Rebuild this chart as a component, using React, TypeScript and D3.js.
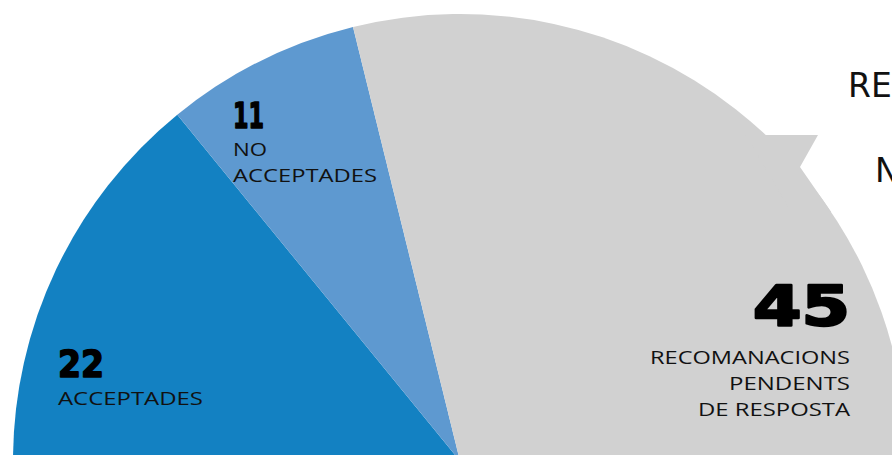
import React, { useEffect } from "react";
import * as d3 from "d3";

const categories = ["ACCEPTADES", "NO ACCEPTADES", "RECOMANACIONS PENDENTS DE RESPOSTA"];
const values = [22, 11, 45];
const labelLines = [["ACCEPTADES"], ["NO", "ACCEPTADES"], ["RECOMANACIONS", "PENDENTS", "DE RESPOSTA"]];
const colors = ["#1381C2", "#5E99D0", "#D1D1D1"];
const sideTexts = ["RECOMANACIONS", "NOMBRE"];

const W = 892;
const H = 455;
const cx = 460;
const cy = 461;
const R = 447;

const labelLayout = [
  { x: 58, numBase: 377, numSize: 37, numW: 46, stroke: 1.6, lineBase: [405], lineW: [145], anchor: "start" },
  { x: 233, numBase: 128, numSize: 36, numW: 31, stroke: 1.6, lineBase: [156, 182], lineW: [34, 144], anchor: "start" },
  { x: 850, numBase: 325, numSize: 55, numW: 97, stroke: 2.4, lineBase: [364, 390, 416], lineW: [200, 121, 152], anchor: "end" },
];

const FONT = "'Open Sans', 'DejaVu Sans', sans-serif";
const NUMFONT = "'DejaVu Sans', sans-serif";

export default function App() {
  useEffect(() => {
    document.body.style.margin = "0";
  }, []);

  const pie = d3
    .pie<number>()
    .sort(null)
    .startAngle(-Math.PI / 2)
    .endAngle(Math.PI / 2)
    .value((d) => d);
  const arcs = pie(values);
  const arcGen = d3.arc<d3.PieArcDatum<number>>().innerRadius(0).outerRadius(R);

  const ya = 135;
  const xa = cx + Math.sqrt(R * R - (cy - ya) * (cy - ya));
  const yb = 212;
  const xb = cx + Math.sqrt(R * R - (cy - yb) * (cy - yb));
  const tab = `M${xa - 20},${ya} L818,${ya} L800,167 L${xb},${yb} L${xb - 40},${yb} Z`;

  return (
    <svg width={W} height={H} style={{ display: "block", background: "#fff" }}>
      <g transform={`translate(${cx},${cy})`}>
        {arcs.map((a, i) => (
          <path key={categories[i]} d={arcGen(a) || ""} fill={colors[i]} />
        ))}
      </g>
      <path d={tab} fill={colors[2]} />
      {labelLayout.map((l, i) => (
        <g key={i}>
          <text
            x={l.x}
            y={l.numBase}
            fontFamily={NUMFONT}
            fontWeight={900}
            fontSize={l.numSize}
            textAnchor={l.anchor}
            textLength={l.numW}
            lengthAdjust="spacingAndGlyphs"
            fill="#000"
            stroke="#000"
            strokeWidth={l.stroke}
            strokeLinejoin="round"
          >
            {values[i]}
          </text>
          {labelLines[i].map((t, j) => (
            <text
              key={j}
              x={l.x}
              y={l.lineBase[j]}
              fontFamily={FONT}
              fontSize={19}
              textAnchor={l.anchor}
              textLength={l.lineW[j]}
              lengthAdjust="spacingAndGlyphs"
              fill="#111"
            >
              {t}
            </text>
          ))}
        </g>
      ))}
      <text x={848} y={97} fontFamily={NUMFONT} fontSize={33} fill="#111">
        {sideTexts[0]}
      </text>
      <text x={875} y={182} fontFamily={NUMFONT} fontSize={33} fill="#111">
        {sideTexts[1]}
      </text>
    </svg>
  );
}
